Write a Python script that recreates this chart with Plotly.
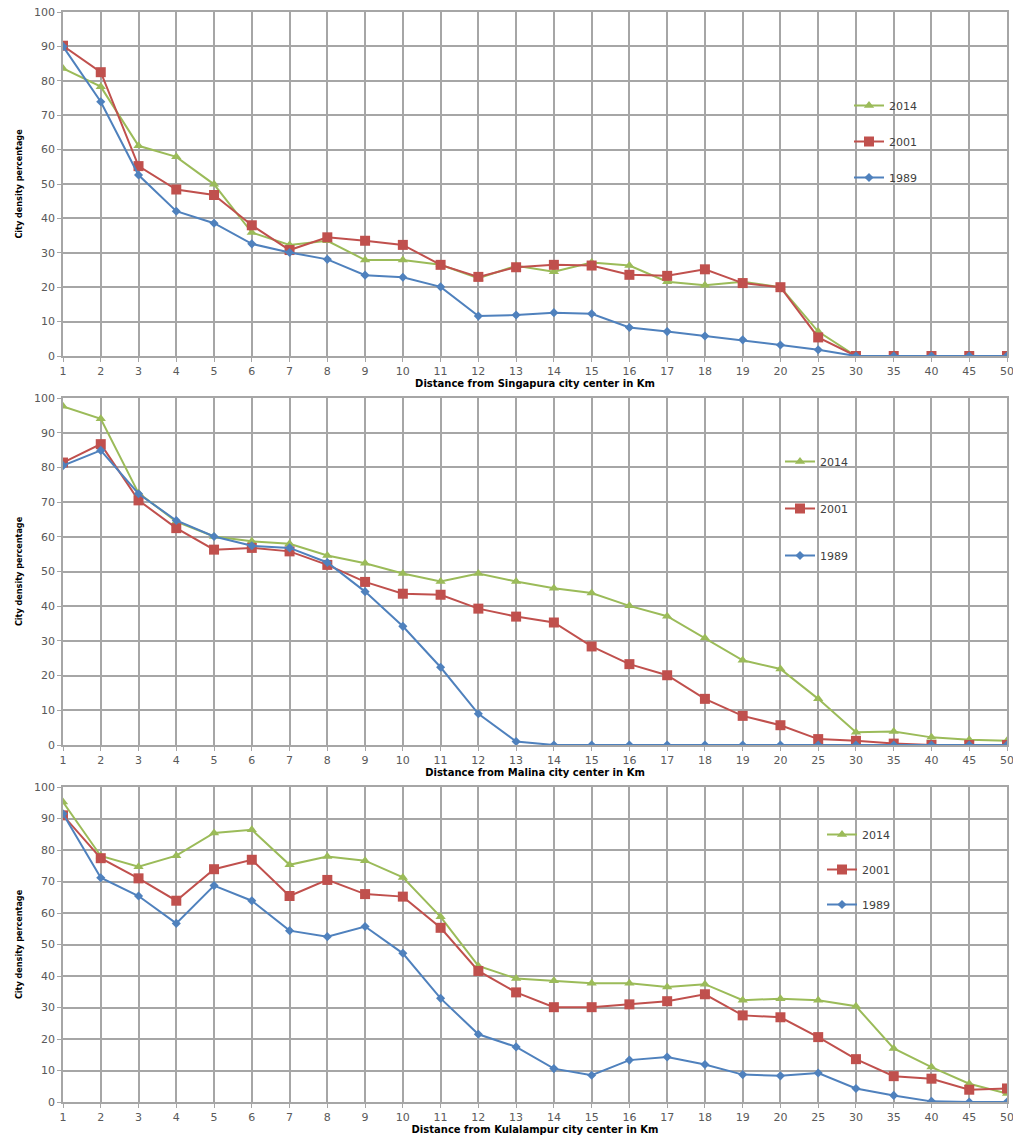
import plotly.graph_objects as go
from plotly.subplots import make_subplots

distances = ["1", "2", "3", "4", "5", "6", "7", "8", "9", "10", "11", "12", "13",
             "14", "15", "16", "17", "18", "19", "20", "25", "30", "35", "40", "45", "50"]
years = ["2014", "2001", "1989"]

sing_2014 = [83.6, 78.3, 61.1, 57.9, 49.9, 35.9, 32.3, 33.5, 27.9, 27.9, 26.5, 22.6, 26.2,
             24.5, 27.2, 26.3, 21.6, 20.6, 21.6, 20.0, 7.1, 0, 0, 0, 0, 0]
sing_2001 = [90.2, 82.5, 55.2, 48.4, 46.8, 38.0, 30.8, 34.5, 33.5, 32.3, 26.5, 23.0, 25.8,
             26.5, 26.3, 23.6, 23.3, 25.2, 21.2, 20.0, 5.4, 0, 0, 0, 0, 0]
sing_1989 = [90.0, 73.9, 52.6, 42.1, 38.6, 32.6, 30.1, 28.1, 23.5, 22.9, 20.1, 11.6, 11.9,
             12.6, 12.3, 8.3, 7.1, 5.8, 4.7, 3.2, 1.8, 0, 0, 0, 0, 0]

mal_2014 = [97.6, 94.0, 72.6, 64.4, 60.1, 58.7, 58.0, 54.6, 52.4, 49.4, 47.1, 49.4, 47.1,
            45.2, 43.8, 40.1, 37.1, 30.8, 24.4, 21.9, 13.3, 3.7, 3.9, 2.2, 1.5, 1.2]
mal_2001 = [81.4, 86.7, 70.5, 62.5, 56.3, 56.8, 55.8, 51.9, 47.0, 43.6, 43.3, 39.3, 37.0,
            35.3, 28.4, 23.3, 20.1, 13.3, 8.4, 5.7, 1.7, 1.2, 0.4, 0, 0, 0]
mal_1989 = [80.5, 84.9, 72.4, 64.7, 60.1, 57.4, 56.8, 52.6, 44.2, 34.2, 22.4, 9.0, 1.0,
            0, 0, 0, 0, 0, 0, 0, 0, 0, 0, 0, 0, 0]

kl_2014 = [95.2, 78.1, 74.7, 78.2, 85.4, 86.4, 75.3, 77.9, 76.6, 71.3, 58.8, 43.2, 39.2,
           38.5, 37.7, 37.7, 36.5, 37.4, 32.3, 32.8, 32.3, 30.4, 17.0, 11.1, 5.8, 2.7]
kl_2001 = [91.0, 77.4, 71.0, 63.9, 73.9, 76.9, 65.4, 70.5, 66.0, 65.2, 55.3, 41.6, 34.8,
           30.1, 30.1, 31.0, 32.0, 34.2, 27.5, 26.9, 20.6, 13.6, 8.2, 7.4, 3.9, 4.3]
kl_1989 = [91.5, 71.2, 65.4, 56.7, 68.7, 63.9, 54.4, 52.5, 55.7, 47.2, 32.9, 21.5, 17.5,
           10.6, 8.5, 13.3, 14.3, 11.9, 8.7, 8.3, 9.2, 4.3, 2.1, 0.2, 0, 0]

cities = ["Singapura", "Malina", "Kulalampur"]
data = [
    [sing_2014, sing_2001, sing_1989],
    [mal_2014, mal_2001, mal_1989],
    [kl_2014, kl_2001, kl_1989],
]

colors = ["#9bbb59", "#c0504d", "#4f81bd"]
symbols = ["triangle-up", "square", "diamond"]
msizes = [9, 10, 7]

fig = make_subplots(rows=3, cols=1)

# The page body has an 8px margin, so the figure is offset by (8, 8) in the window.
OFF = 8
H = 1136
W = 1021
left_m, right_m = 63 - OFF, W - (1007 - OFF)
top_m, bot_m = 12 - OFF, H - (1102 - OFF)
plot_h = H - top_m - bot_m
plot_w = W - left_m - right_m

def py(px):
    return (1102 - px) / plot_h

def pxx(px):
    return (px - 63) / plot_w

domains = [(py(356), 1.0), (py(745), py(398)), (0.0, py(787))]
legend_pos = [(pxx(849), py(91), 17), (pxx(780), py(447), 28), (pxx(822), py(820), 16)]
legend_names = ["legend", "legend2", "legend3"]

for i in range(3):
    for j in range(3):
        fig.add_trace(go.Scatter(
            x=distances, y=data[i][j], name=years[j], mode="lines+markers",
            line=dict(color=colors[j], width=2),
            marker=dict(symbol=symbols[j], size=msizes[j], color=colors[j]),
            legend=legend_names[i], legendgroup=f"{i}-{j}",
        ), row=i + 1, col=1)

axis_font = dict(family="DejaVu Sans", size=11, color="#595959")
grid = "#a6a6a6"
for i in range(3):
    xa = "xaxis" if i == 0 else f"xaxis{i+1}"
    ya = "yaxis" if i == 0 else f"yaxis{i+1}"
    fig.layout[xa].update(
        type="category", categoryorder="array", categoryarray=distances,
        range=[0, len(distances) - 1], showgrid=True, gridcolor=grid, gridwidth=1.5,
        showline=True, linecolor=grid, linewidth=1.5, mirror=True,
        ticks="outside", ticklen=4, tickcolor=grid, tickfont=axis_font,
        automargin=False, ticklabeloverflow="allow",
        title=dict(text=f"Distance from {cities[i]} city center in Km",
                   font=dict(family="DejaVu Sans", size=10, color="#000000", weight="bold"),
                   standoff=0),
    )
    fig.layout[ya].update(
        domain=list(domains[i]), range=[0, 100], dtick=10, showgrid=True,
        gridcolor=grid, gridwidth=1.5, showline=True, linecolor=grid, linewidth=1.5,
        mirror=True, ticks="outside", ticklen=4, tickcolor=grid, tickfont=axis_font,
        zeroline=False, automargin=False, ticklabeloverflow="allow",
        title=dict(text="City density percentage",
                   font=dict(family="DejaVu Sans Condensed, DejaVu Sans", size=9,
                             color="#000000", weight="bold"),
                   standoff=10),
    )
    lx, ly, gap = legend_pos[i]
    fig.layout[legend_names[i]] = dict(
        x=lx, y=ly, xanchor="left", yanchor="top", traceorder="grouped",
        tracegroupgap=gap, bgcolor="rgba(255,255,255,0)",
        font=dict(family="DejaVu Sans", size=11, color="#404040"),
    )

fig.update_layout(
    width=W, height=H,
    margin=dict(l=left_m, r=right_m, t=top_m, b=bot_m, autoexpand=False),
    paper_bgcolor="white", plot_bgcolor="white",
    showlegend=True,
)

fig.write_html("out.html")
